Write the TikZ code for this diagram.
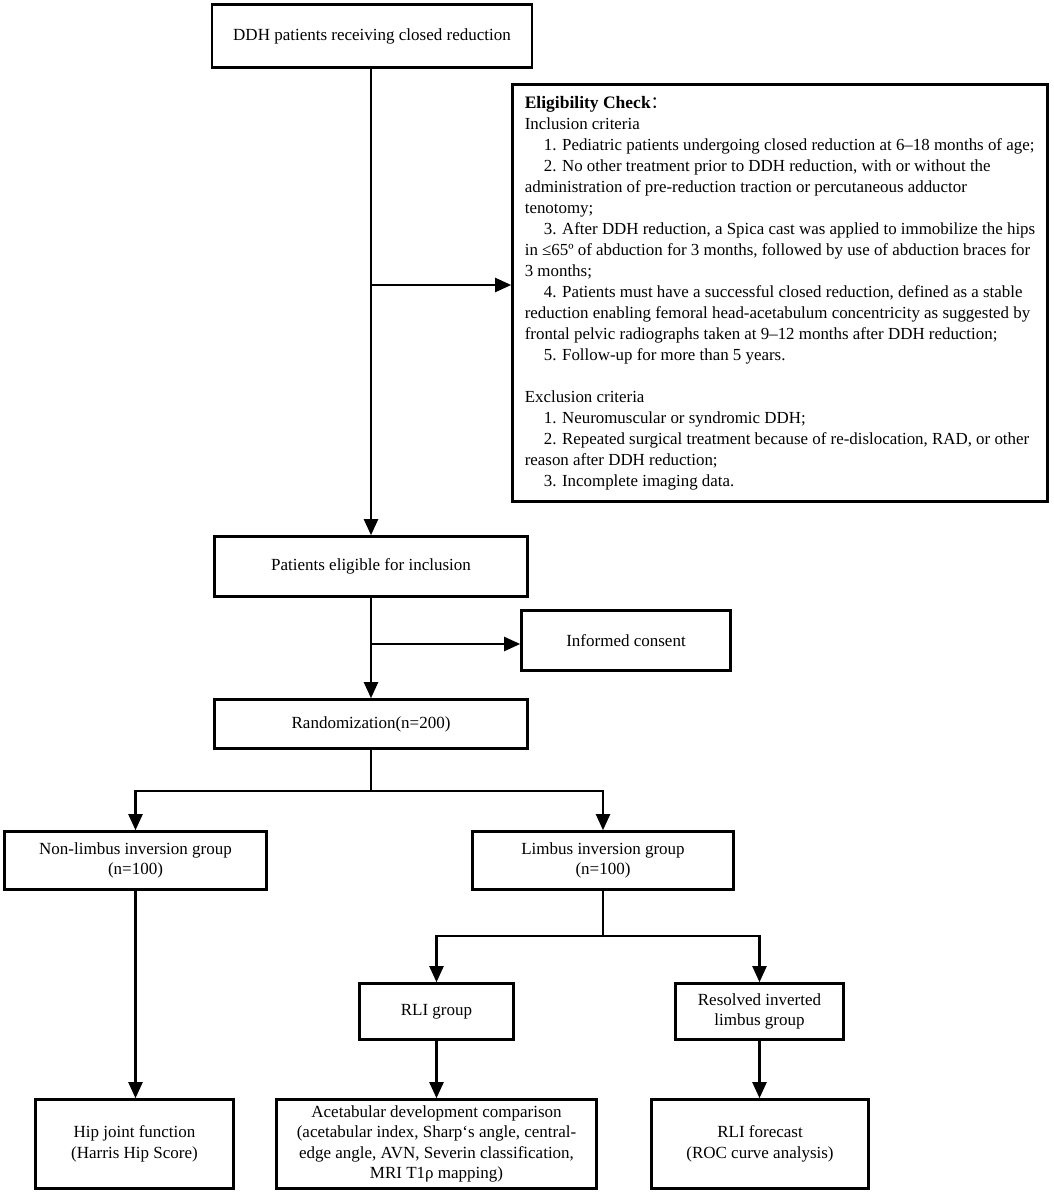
\documentclass[tikz,border=0pt]{standalone}
\usepackage{fontspec}
\setmainfont{Liberation Serif}
\newfontfamily\cjk{Noto Sans CJK SC}
\usetikzlibrary{arrows.meta}
\begin{document}
\begin{tikzpicture}[x=1pt,y=-1pt,
  box/.style={draw, line width=2.6pt, align=center, inner sep=2pt,
    font=\fontsize{17}{20.5}\selectfont},
  elbox/.style={draw, line width=2.6pt, align=left, inner sep=2pt,
    font=\fontsize{16.9}{21}\selectfont},
  conn/.style={line width=2.2pt},
  arr/.style={conn, -{Triangle[length=16pt,width=14pt]}}]
\useasboundingbox (0,0) rectangle (1053,1194);

\node[box, minimum width=320, minimum height=63] (b1) at (372,36) {DDH patients receiving closed reduction};
\node[elbox, minimum width=535, minimum height=417] (elig) at (780,293) {%
{\fontsize{17.5}{21}\selectfont\textbf{Eligibility Check}}{\cjk ：}\\
Inclusion criteria\\
\hspace*{19pt}1. Pediatric patients undergoing closed reduction at 6–18 months of age;\\
\hspace*{19pt}2. No other treatment prior to DDH reduction, with or without the\\
administration of pre-reduction traction or percutaneous adductor\\
tenotomy;\\
\hspace*{19pt}3. After DDH reduction, a Spica cast was applied to immobilize the hips\\
in ≤65º of abduction for 3 months, followed by use of abduction braces for\\
3 months;\\
\hspace*{19pt}4. Patients must have a successful closed reduction, defined as a stable\\
reduction enabling femoral head-acetabulum concentricity as suggested by\\
frontal pelvic radiographs taken at 9–12 months after DDH reduction;\\
\hspace*{19pt}5. Follow-up for more than 5 years.\\[21pt]
Exclusion criteria\\
\hspace*{19pt}1. Neuromuscular or syndromic DDH;\\
\hspace*{19pt}2. Repeated surgical treatment because of re-dislocation, RAD, or other\\
reason after DDH reduction;\\
\hspace*{19pt}3. Incomplete imaging data.};
\node[box, minimum width=313, minimum height=60] (pe) at (371,566.5) {Patients eligible for inclusion};
\node[box, minimum width=209, minimum height=60] (ic) at (626,640.5) {Informed consent};
\node[box, minimum width=313, minimum height=49] (rand) at (371,724) {Randomization(n=200)};
\node[box, minimum width=262, minimum height=58] (nl) at (135.5,860.5) {Non-limbus inversion group\\(n=100)};
\node[box, minimum width=261, minimum height=58] (li) at (603,860.5) {Limbus inversion group\\(n=100)};
\node[box, minimum width=154, minimum height=56] (rli) at (436.5,1011.5) {RLI group};
\node[box, minimum width=168, minimum height=56] (res) at (759.5,1011.5) {Resolved inverted\\limbus group};
\node[box, minimum width=198, minimum height=89] (hip) at (134.5,1144) {Hip joint function\\(Harris Hip Score)};
\node[box, minimum width=320, minimum height=89] (ace) at (436.5,1144) {Acetabular development comparison\\(acetabular index, Sharp‘s angle, central-\\edge angle, AVN, Severin classification,\\MRI T1ρ mapping)};
\node[box, minimum width=217, minimum height=89] (fc) at (760,1144) {RLI forecast\\(ROC curve analysis)};

\draw[arr] (b1.south -| pe.north) -- (pe.north);
\coordinate (j1) at (371,285);
\draw[arr] (j1) -- (j1 -| elig.west);
\draw[arr] (pe.south) -- (rand.north);
\coordinate (j2) at (371,644);
\draw[arr] (j2) -- (j2 -| ic.west);
\coordinate (j3) at (371,791);
\draw[conn] (rand.south) -- (j3);
\draw[arr] (j3) -| (nl.north);
\draw[arr] (j3) -| (li.north);
\draw[arr] (nl.south) -- (nl.south |- hip.north);
\coordinate (j4) at (603,936);
\draw[conn] (li.south) -- (j4);
\draw[arr] (j4) -| (rli.north);
\draw[arr] (j4) -| (res.north);
\draw[arr] (rli.south) -- (rli.south |- ace.north);
\draw[arr] (res.south) -- (res.south |- fc.north);
\end{tikzpicture}
\end{document}
